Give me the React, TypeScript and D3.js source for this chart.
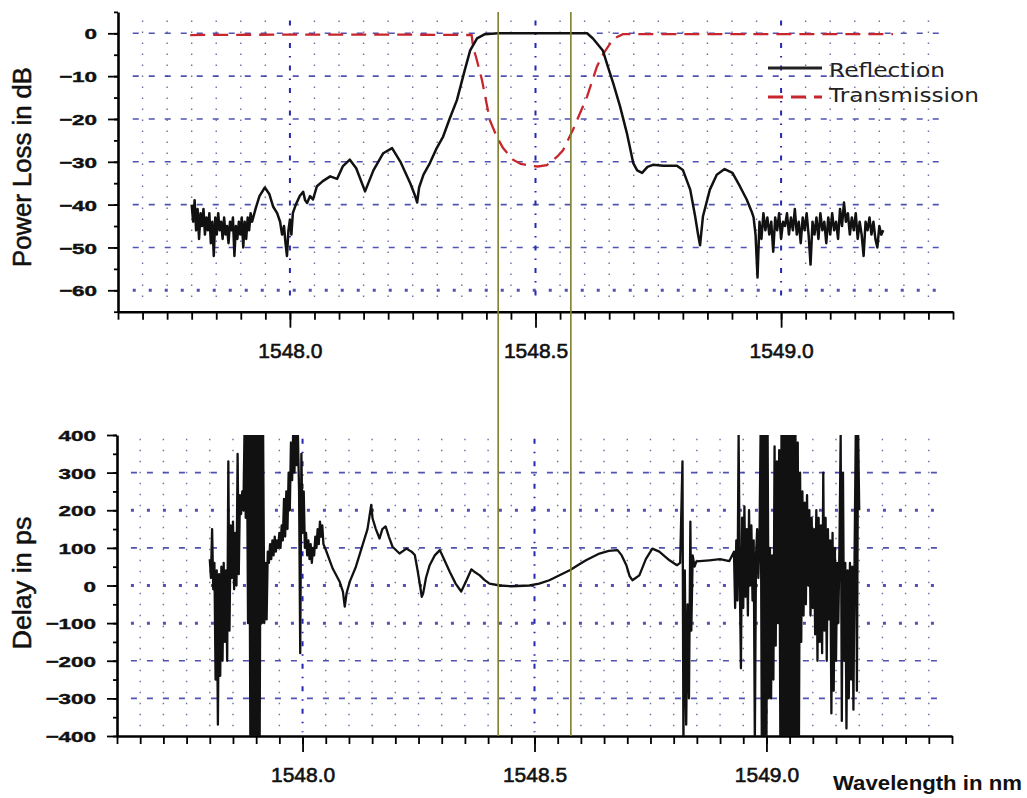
import React, { useEffect, useRef } from 'react';
import * as d3 from 'd3';

type Pt = [number, number];

// ---- axis ticks ----
const majorWavelengths = [1548.0, 1548.5, 1549.0];
const dbTicks = [0, -10, -20, -30, -40, -50, -60];
const psTicks = [400, 300, 200, 100, 0, -100, -200, -300, -400];
const markerWavelengths = [1548.424, 1548.572];

// ---- Reflection (dB), noisy floor on a fixed wavelength grid ----
const reflectionNoiseLeftStart = 1547.8;
const reflectionNoiseLeftStep = 0.003;
const reflectionNoiseLeft = [
  -40, -44, -39, -46, -41, -48, -42, -45, -41, -47,
  -43, -46, -42, -49, -44, -52, -43, -47, -42, -46,
  -44, -48, -43, -47, -45, -49, -44, -46, -43, -52,
  -45, -48, -44, -47, -43, -50, -44, -48, -43, -46,
  -42, -44,
];

const reflectionMain: Pt[] = [
  [1547.930, -41], [1547.938, -38], [1547.949, -36], [1547.958, -37.5], [1547.966, -40.5],
  [1547.974, -42], [1547.980, -44], [1547.984, -47], [1547.988, -45], [1547.991, -49],
  [1547.994, -52], [1547.997, -46], [1548.000, -43.5], [1548.003, -47], [1548.006, -42],
  [1548.012, -40], [1548.020, -38], [1548.027, -37], [1548.031, -39], [1548.035, -39.6],
  [1548.041, -38], [1548.047, -38.8], [1548.055, -35.7], [1548.067, -34.5], [1548.082, -33.4],
  [1548.096, -34], [1548.108, -31], [1548.122, -29.5], [1548.135, -31.5], [1548.153, -36.9],
  [1548.170, -32], [1548.190, -28], [1548.208, -26.8], [1548.225, -30], [1548.245, -35],
  [1548.255, -38], [1548.259, -39.5], [1548.263, -36], [1548.272, -33], [1548.285, -30.3],
  [1548.298, -27], [1548.312, -24.1], [1548.325, -20], [1548.340, -15.6], [1548.356, -8.6],
  [1548.367, -4], [1548.381, -1.2], [1548.397, -0.2], [1548.424, 0], [1548.500, 0],
  [1548.605, 0], [1548.617, -1.2], [1548.637, -4], [1548.648, -8], [1548.658, -11.6],
  [1548.672, -17], [1548.686, -23.3], [1548.699, -30.3], [1548.707, -32], [1548.717, -32.6],
  [1548.728, -31.2], [1548.739, -30.7], [1548.760, -30.9], [1548.788, -30.9], [1548.800, -31.9],
  [1548.815, -36.5], [1548.825, -42.7], [1548.831, -47], [1548.835, -49.5], [1548.838, -46],
  [1548.841, -42.7], [1548.855, -36.5], [1548.869, -33], [1548.885, -31.7], [1548.901, -32.6],
  [1548.916, -35.7], [1548.930, -38.8], [1548.941, -41.9],
];

const reflectionNoiseRightStart = 1548.944;
const reflectionNoiseRightStep = 0.004;
const reflectionNoiseRight = [
  -43, -47, -57, -44, -48, -42, -46, -43, -47, -44,
  -51, -43, -46, -42, -48, -44, -45, -42, -47, -43,
  -46, -41, -47, -44, -49, -43, -46, -42, -47, -54,
  -44, -47, -43, -48, -42, -46, -44, -49, -43, -47,
  -42, -46, -44, -48, -41, -45, -39.5, -44, -42, -47,
  -43, -46, -42, -48, -44, -47, -52, -44, -46, -43,
  -47, -44, -48, -50, -45, -47, -46,
];

// ---- Transmission (dB) ----
const transmission: Pt[] = [
  [1547.797, -0.4], [1548.000, -0.3], [1548.200, -0.3], [1548.370, -0.4], [1548.373, -3.2],
  [1548.380, -6], [1548.391, -10.9], [1548.403, -17.9], [1548.407, -20.3], [1548.421, -24.1],
  [1548.434, -26.8], [1548.454, -29.5], [1548.470, -30.5], [1548.489, -30.9], [1548.505, -31.1],
  [1548.523, -30.8], [1548.544, -28.8], [1548.556, -27.3], [1548.576, -22.6], [1548.605, -14.8],
  [1548.625, -7.8], [1548.637, -5], [1548.658, -1.3], [1548.678, -0.2], [1548.800, -0.2],
  [1549.000, -0.2], [1549.228, -0.2],
];

// ---- Group delay (ps) ----
const delayNoiseStep = 0.0025;
const delayNoiseLeftStart = 1547.8;
const delayNoiseLeft = [
  70, 20, 150, -10, 60, -250, 40, -370, 30, -240,
  50, -200, 60, -150, 40, -200, 330, -120, 160, 20,
  170, -10, 140, 0, 350, 30, 240, 190, 250, 200,
  420, 180, 420, -100, 420, -420, 420, -420, 420, -420,
  420, -420, 420, -420, 420, -100, 400, -100, 60, -90,
  90, 60, 110, 70, 120, 80, 130, 90, 120, 100,
  140, 100, 160, 120, 230, 130, 250, 150, 300, 200,
  380, 280, 420, 300, 420, 320, 400, 250, -180, 350,
  140, 250, 100, 140, 80, 120, 70, 110, 60, 100,
  80, 130, 100, 150, 110, 170, 130, 160, 110,
];

const delayMain: Pt[] = [
  [1548.050, 95], [1548.065, 45], [1548.080, 10], [1548.087, -16], [1548.091, -56],
  [1548.095, -20], [1548.102, 11], [1548.115, 50], [1548.127, 98], [1548.140, 150],
  [1548.148, 214], [1548.151, 178], [1548.158, 150], [1548.166, 125], [1548.172, 150],
  [1548.179, 157], [1548.186, 130], [1548.194, 103], [1548.209, 85], [1548.224, 98],
  [1548.235, 90], [1548.242, 81], [1548.248, 40], [1548.252, 10], [1548.257, -30],
  [1548.260, -21], [1548.266, 20], [1548.274, 54], [1548.285, 80], [1548.296, 94],
  [1548.305, 70], [1548.317, 37], [1548.330, 5], [1548.342, -16], [1548.352, 10],
  [1548.364, 43], [1548.372, 35], [1548.382, 27], [1548.392, 15], [1548.403, 5],
  [1548.425, 0], [1548.450, -2], [1548.489, 0], [1548.510, 5], [1548.532, 14],
  [1548.555, 28], [1548.577, 41], [1548.595, 55], [1548.611, 67], [1548.640, 85],
  [1548.660, 92], [1548.679, 94], [1548.688, 80], [1548.698, 54], [1548.705, 25],
  [1548.711, 14], [1548.718, 20], [1548.726, 27], [1548.740, 70], [1548.754, 98],
  [1548.769, 90], [1548.791, 67], [1548.807, 54], [1548.814, 60], [1548.819, 330],
  [1548.821, -420], [1548.824, 40], [1548.827, -370], [1548.830, -50], [1548.833, -300],
  [1548.836, 170], [1548.838, -120], [1548.841, 80], [1548.845, 50], [1548.849, 64],
  [1548.877, 67], [1548.900, 70], [1548.920, 65],
];

const delayNoiseRightStart = 1548.93;
const delayNoiseRight = [
  90, -60, 120, -40, 400, 20, -220, 180, -60, 210,
  -30, 150, -80, 200, 0, 160, -40, 120, -420, 80,
  150, 20, 120, 420, -420, 420, -420, 420, -420, 420,
  -300, 100, -300, 80, -250, 370, -160, 330, -100, 360,
  -420, 420, -420, 420, -420, 400, -420, 420, -420, 420,
  -420, 420, -420, 420, -420, 380, -420, 300, -150, 250,
  -80, 220, -50, 240, 0, 200, -80, 180, -60, 150,
  -130, 200, -200, 180, -150, 160, -180, 300, -120, 180,
  -200, 150, -90, 120, -340, 140, -280, 100, -200, 60,
  -100, 120, 400, -360, 300, -200, 60, -380, 40, -300,
  60, -250, 50, -330, 80, 400, -280, 420, 200,
];

const W = 1027;
const H = 798;
const FONT = '"Liberation Sans", Arial, sans-serif';
const GRID = '#3434a6';

// turn a sampled series (start + step) into points
const sampled = (start: number, step: number, values: number[]): Pt[] =>
  values.map((v, i) => [start + i * step, v]);

const App: React.FC = () => {
  const svgRef = useRef<SVGSVGElement>(null);

  useEffect(() => {
    if (!svgRef.current) return;
    const svg = d3.select(svgRef.current);
    svg.selectAll('*').remove();

    // Scales: the two panels use slightly different wavelength spans
    const xTop = d3.scaleLinear().domain([1547.65, 1549.35]).range([118, 953]);
    const yTop = d3.scaleLinear().domain([-65, 5]).range([311.7, 11.9]);
    const xBot = d3.scaleLinear().domain([1547.6, 1549.4]).range([117, 952]);
    const yBot = d3.scaleLinear().domain([-400, 400]).range([736, 435]);

    const stepTicks = (x: d3.ScaleLinear<number, number>) => {
      const [a, b] = x.domain();
      const n = Math.round((b - a) / 0.05);
      return d3.range(n + 1).map(i => +(a + i * 0.05).toFixed(2));
    };

    const defs = svg.append('defs');
    defs.append('clipPath').attr('id', 'clip-top').append('rect')
      .attr('x', xTop.range()[0]).attr('y', yTop(5))
      .attr('width', xTop.range()[1] - xTop.range()[0]).attr('height', yTop(-65) - yTop(5));
    defs.append('clipPath').attr('id', 'clip-bot').append('rect')
      .attr('x', xBot.range()[0]).attr('y', yBot(400))
      .attr('width', xBot.range()[1] - xBot.range()[0]).attr('height', yBot(-400) - yBot(400));

    // ---- grid ----
    const drawGrid = (
      x: d3.ScaleLinear<number, number>,
      y: d3.ScaleLinear<number, number>,
      rows: number[],
      heavyRows: number[],
      yTopEdge: number,
      yBottomEdge: number
    ) => {
      const g = svg.append('g');
      const ticks = stepTicks(x).slice(1, -1);
      const x1 = x(x.domain()[0] + 0.03);
      const x2 = x(x.domain()[1] - 0.025);

      g.selectAll('line.vminor')
        .data(ticks.filter(t => !majorWavelengths.some(m => Math.abs(m - t) < 1e-6)))
        .enter().append('line')
        .attr('x1', d => x(d)).attr('x2', d => x(d))
        .attr('y1', yTopEdge).attr('y2', yBottomEdge)
        .style('stroke', '#4a4a90')
        .style('stroke-width', 1.4)
        .style('stroke-dasharray', '1.5,9.5')
        .style('opacity', 0.8);

      g.selectAll('line.vmajor')
        .data(majorWavelengths)
        .enter().append('line')
        .attr('x1', d => x(d)).attr('x2', d => x(d))
        .attr('y1', yTopEdge).attr('y2', yBottomEdge)
        .style('stroke', '#2626b0')
        .style('stroke-width', 2)
        .style('stroke-dasharray', '5,8,1.5,8');

      g.selectAll('line.hrow')
        .data(rows)
        .enter().append('line')
        .attr('x1', x1).attr('x2', x2)
        .attr('y1', d => y(d)).attr('y2', d => y(d))
        .style('stroke', GRID)
        .style('stroke-width', d => (heavyRows.includes(d) ? 3 : 1.6))
        .style('stroke-dasharray', d => (heavyRows.includes(d) ? '3,13' : '6,10'))
        .style('opacity', 0.85);
    };

    drawGrid(xTop, yTop, dbTicks, [-60], yTop(3), yTop(-62));
    drawGrid(xBot, yBot, [300, 200, 100, 0, -100, -200, -300], [200, 0, -100], yBot(390), yBot(-390));

    // ---- axes ----
    const styleAxis = (g: d3.Selection<SVGGElement, unknown, null, undefined>) => {
      g.select('.domain').style('stroke', '#000').style('stroke-width', 2.6);
      g.selectAll('.tick line').style('stroke', '#000').style('stroke-width', 1.8);
    };

    const drawXAxis = (x: d3.ScaleLinear<number, number>, y0: number) => {
      const minor = svg.append('g')
        .attr('transform', `translate(0,${y0})`)
        .call(d3.axisBottom(x).tickValues(stepTicks(x)).tickSize(8).tickSizeOuter(0).tickFormat(() => ''));
      styleAxis(minor);

      const major = svg.append('g')
        .attr('transform', `translate(0,${y0})`)
        .call(d3.axisBottom(x).tickValues(majorWavelengths).tickSize(16).tickPadding(15)
          .tickSizeOuter(0).tickFormat(d3.format('.1f')));
      major.select('.domain').remove();
      styleAxis(major);
      major.selectAll('.tick text')
        .style('font-family', FONT)
        .style('font-size', '21px')
        .style('fill', '#111')
        .style('stroke', '#111')
        .style('stroke-width', 0.6);
    };

    const drawYAxis = (
      y: d3.ScaleLinear<number, number>,
      x0: number,
      minorTicks: number[],
      majorTicks: number[]
    ) => {
      const minor = svg.append('g')
        .attr('transform', `translate(${x0},0)`)
        .call(d3.axisLeft(y).tickValues(minorTicks).tickSize(4).tickSizeOuter(0).tickFormat(() => ''));
      styleAxis(minor);

      const major = svg.append('g')
        .attr('transform', `translate(${x0},0)`)
        .call(d3.axisLeft(y).tickValues(majorTicks).tickSize(10).tickSizeOuter(0).tickFormat(d3.format('d')));
      major.select('.domain').remove();
      styleAxis(major);
      // labels are drawn wide and heavy in the original
      major.selectAll<SVGTextElement, number>('.tick text')
        .attr('x', 0)
        .attr('dy', '0.36em')
        .attr('transform', 'translate(-21,0) scale(1.45,1)')
        .style('font-family', FONT)
        .style('font-weight', 'bold')
        .style('font-size', '15.5px')
        .style('fill', '#111')
        .style('stroke', '#111')
        .style('stroke-width', 0.4);
    };

    drawXAxis(xTop, yTop(-65));
    drawXAxis(xBot, yBot(-400));
    drawYAxis(yTop, xTop.range()[0], d3.range(-65, 6, 5), dbTicks);
    drawYAxis(yBot, xBot.range()[0], d3.range(-400, 401, 50), psTicks);

    // ---- curves ----
    const lineTop = d3.line<Pt>().x(d => xTop(d[0])).y(d => yTop(d[1]));
    const lineBot = d3.line<Pt>().x(d => xBot(d[0])).y(d => yBot(d[1]));

    const reflection: Pt[] = [
      ...sampled(reflectionNoiseLeftStart, reflectionNoiseLeftStep, reflectionNoiseLeft),
      ...reflectionMain,
      ...sampled(reflectionNoiseRightStart, reflectionNoiseRightStep, reflectionNoiseRight),
    ];
    const delay: Pt[] = [
      ...sampled(delayNoiseLeftStart, delayNoiseStep, delayNoiseLeft),
      ...delayMain,
      ...sampled(delayNoiseRightStart, delayNoiseStep, delayNoiseRight),
    ];

    svg.append('path')
      .datum(transmission)
      .attr('clip-path', 'url(#clip-top)')
      .attr('d', lineTop)
      .style('fill', 'none')
      .style('stroke', '#c8262c')
      .style('stroke-width', 2.3)
      .style('stroke-dasharray', '15,8');

    svg.append('path')
      .datum(reflection)
      .attr('clip-path', 'url(#clip-top)')
      .attr('d', lineTop)
      .style('fill', 'none')
      .style('stroke', '#111')
      .style('stroke-width', 2.5)
      .style('stroke-linejoin', 'round');

    svg.append('path')
      .datum(delay)
      .attr('clip-path', 'url(#clip-bot)')
      .attr('d', lineBot)
      .style('fill', 'none')
      .style('stroke', '#111')
      .style('stroke-width', 2.3)
      .style('stroke-linejoin', 'round');

    // ---- bandwidth markers spanning both panels ----
    svg.selectAll('line.marker')
      .data(markerWavelengths)
      .enter().append('line')
      .attr('x1', d => xTop(d)).attr('x2', d => xTop(d))
      .attr('y1', yTop(5)).attr('y2', yBot(-400))
      .style('stroke', '#7f7f2c')
      .style('stroke-width', 1.6);

    // ---- legend ----
    const legend = svg.append('g').attr('transform', 'translate(768,0)');
    legend.append('line')
      .attr('x1', 0).attr('x2', 54).attr('y1', 68).attr('y2', 68)
      .style('stroke', '#222').style('stroke-width', 2.8);
    legend.append('line')
      .attr('x1', 0).attr('x2', 54).attr('y1', 97).attr('y2', 97)
      .style('stroke', '#c8262c').style('stroke-width', 2.8)
      .style('stroke-dasharray', '15,8');
    legend.append('text')
      .attr('x', 61).attr('y', 77)
      .attr('textLength', 116).attr('lengthAdjust', 'spacingAndGlyphs')
      .style('font-family', '"DejaVu Sans", Verdana, sans-serif')
      .style('font-size', '20px').style('fill', '#222')
      .text('Reflection');
    legend.append('text')
      .attr('x', 61).attr('y', 102)
      .attr('textLength', 150).attr('lengthAdjust', 'spacingAndGlyphs')
      .style('font-family', '"DejaVu Sans", Verdana, sans-serif')
      .style('font-size', '20px').style('fill', '#222')
      .text('Transmission');

    // ---- axis titles ----
    const yTitle = (label: string, cy: number, len: number) =>
      svg.append('text')
        .attr('transform', `translate(31,${cy}) rotate(-90)`)
        .attr('text-anchor', 'middle')
        .attr('textLength', len).attr('lengthAdjust', 'spacingAndGlyphs')
        .style('font-family', FONT)
        .style('font-size', '25px')
        .style('fill', '#111')
        .style('stroke', '#111').style('stroke-width', 0.5)
        .text(label);
    yTitle('Power Loss in dB', 167, 200);
    yTitle('Delay in ps', 583, 133);

    svg.append('text')
      .attr('x', 833).attr('y', 790)
      .attr('textLength', 189).attr('lengthAdjust', 'spacingAndGlyphs')
      .style('font-family', FONT)
      .style('font-weight', 'bold')
      .style('font-size', '20px')
      .style('fill', '#111')
      .text('Wavelength in nm');
  }, []);

  return (
    <svg
      ref={svgRef}
      width={W}
      height={H}
      style={{ position: 'absolute', left: 0, top: 0, background: '#fff' }}
    />
  );
};

export default App;
